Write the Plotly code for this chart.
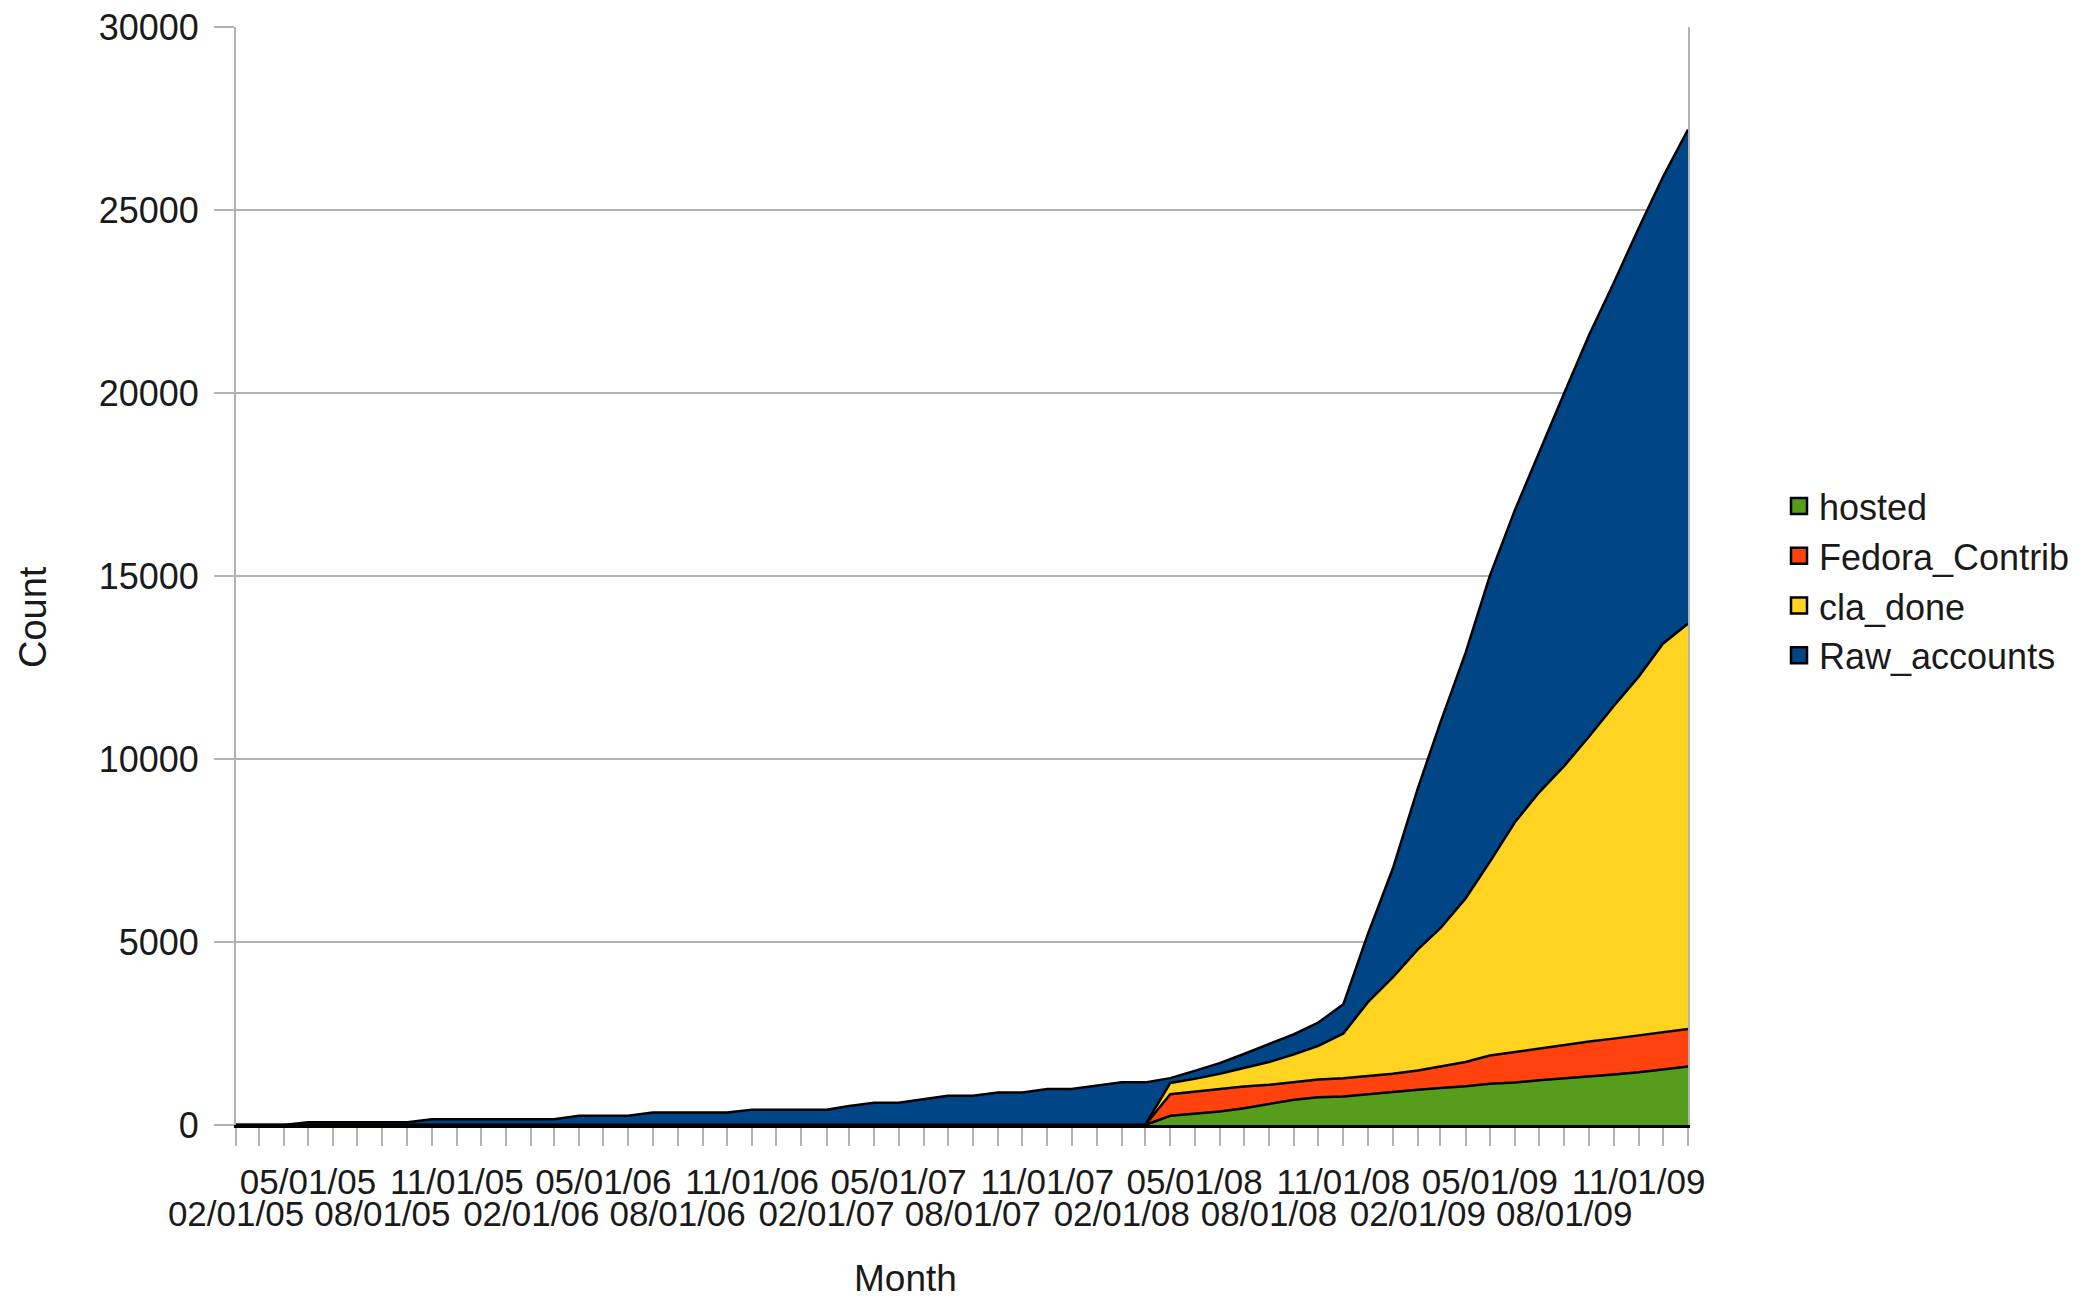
import plotly.graph_objects as go
import pandas as pd

# ---------------- data ----------------
months = [
    "02/01/05", "03/01/05", "04/01/05", "05/01/05", "06/01/05", "07/01/05",
    "08/01/05", "09/01/05", "10/01/05", "11/01/05", "12/01/05", "01/01/06",
    "02/01/06", "03/01/06", "04/01/06", "05/01/06", "06/01/06", "07/01/06",
    "08/01/06", "09/01/06", "10/01/06", "11/01/06", "12/01/06", "01/01/07",
    "02/01/07", "03/01/07", "04/01/07", "05/01/07", "06/01/07", "07/01/07",
    "08/01/07", "09/01/07", "10/01/07", "11/01/07", "12/01/07", "01/01/08",
    "02/01/08", "03/01/08", "04/01/08", "05/01/08", "06/01/08", "07/01/08",
    "08/01/08", "09/01/08", "10/01/08", "11/01/08", "12/01/08", "01/01/09",
    "02/01/09", "03/01/09", "04/01/09", "05/01/09", "06/01/09", "07/01/09",
    "08/01/09", "09/01/09", "10/01/09", "11/01/09", "12/01/09", "01/01/10",
]

raw_accounts = [
    0, 0, 0, 75, 75, 75, 75, 75, 160, 160, 160, 160,
    160, 160, 250, 250, 250, 340, 340, 340, 340, 420, 420, 420,
    420, 520, 610, 610, 710, 800, 800, 890, 890, 985, 985, 1075,
    1165, 1165, 1280, 1480, 1690, 1940, 2200, 2480, 2800, 3300, 5200, 7000,
    9200, 11000, 12900, 15000, 16800, 18400, 20000, 21600, 23000, 24500, 25900, 27200,
]
cla_done = [
    0, 0, 0, 0, 0, 0, 0, 0, 0, 0, 0, 0,
    0, 0, 0, 0, 0, 0, 0, 0, 0, 0, 0, 0,
    0, 0, 0, 0, 0, 0, 0, 0, 0, 0, 0, 0,
    0, 0, 1150, 1260, 1400, 1560, 1720, 1930, 2160, 2500, 3350, 4030,
    4800, 5380, 6190, 7190, 8270, 9090, 9810, 10620, 11440, 12250, 13150, 13700,
]
fedora_contrib = [
    0, 0, 0, 0, 0, 0, 0, 0, 0, 0, 0, 0,
    0, 0, 0, 0, 0, 0, 0, 0, 0, 0, 0, 0,
    0, 0, 0, 0, 0, 0, 0, 0, 0, 0, 0, 0,
    0, 0, 840, 910, 980, 1050, 1100, 1165, 1240, 1275, 1330, 1400,
    1490, 1600, 1720, 1900, 2000, 2100, 2200, 2280, 2360, 2450, 2540, 2620,
]
hosted = [
    0, 0, 0, 0, 0, 0, 0, 0, 0, 0, 0, 0,
    0, 0, 0, 0, 0, 0, 0, 0, 0, 0, 0, 0,
    0, 0, 0, 0, 0, 0, 0, 0, 0, 0, 0, 0,
    0, 0, 250, 300, 370, 460, 580, 690, 760, 780, 840, 910,
    960, 1010, 1060, 1130, 1160, 1220, 1270, 1330, 1380, 1440, 1520, 1600,
]

top_row_labels = ["05/01/05", "11/01/05", "05/01/06", "11/01/06", "05/01/07",
                  "11/01/07", "05/01/08", "11/01/08", "05/01/09", "11/01/09"]
bottom_row_labels = ["02/01/05", "08/01/05", "02/01/06", "08/01/06", "02/01/07",
                     "08/01/07", "02/01/08", "08/01/08", "02/01/09", "08/01/09"]
y_ticks = [0, 5000, 10000, 15000, 20000, 25000, 30000]

series_names = ["Raw_accounts", "cla_done", "Fedora_Contrib", "hosted"]
series_values = [raw_accounts, cla_done, fedora_contrib, hosted]
series_colors = ["#004586", "#ffd320", "#ff420e", "#579d1c"]

# ---------------- figure ----------------
dates = pd.to_datetime(months, format="%m/%d/%y")
date_str = [d.strftime("%Y-%m-%d") for d in dates]
bottom_dates = [pd.to_datetime(m, format="%m/%d/%y").strftime("%Y-%m-%d") for m in bottom_row_labels]

FONT = "Liberation Sans, Arial, sans-serif"
GRID = "#b3b3b3"
TXT = "#1a1a1a"

fig = go.Figure()

# area traces (drawn back to front)
for name, vals, col in zip(series_names, series_values, series_colors):
    fig.add_trace(go.Scatter(
        x=date_str, y=vals, name=name, mode="lines",
        line=dict(color="black", width=2.5),
        fill="tozeroy", fillcolor=col, showlegend=False,
        hoverinfo="x+y+name",
    ))

# legend entries (square swatches)
for name, col in zip(series_names[::-1], series_colors[::-1]):
    fig.add_trace(go.Scatter(
        x=[None], y=[None], name=name, mode="markers",
        marker=dict(symbol="square", size=16, color=col, line=dict(color="black", width=2.5)),
        showlegend=True,
    ))

# invisible trace for the second (lower) row of month labels
fig.add_trace(go.Scatter(x=[None], y=[None], xaxis="x2", yaxis="y",
                         showlegend=False, hoverinfo="skip"))

# page body has an 8px margin; place the plot area at page px 236..1688 x 27..1125
PAGE_OFF = 8
W, H = 2071, 1293
L = 236 - PAGE_OFF
T = 27 - PAGE_OFF
R = W - (1688 - PAGE_OFF)
B = H - (1125 - PAGE_OFF)
plot_w = W - L - R
plot_h = H - T - B

def px_x(px):
    return (px - 236) / plot_w

def px_y(py):
    return (1125 - py) / plot_h

fig.update_layout(
    width=W, height=H,
    margin=dict(l=L, r=R, t=T, b=B, pad=0, autoexpand=False),
    paper_bgcolor="white", plot_bgcolor="white",
    font=dict(family=FONT, size=35, color=TXT),
    xaxis=dict(
        type="date", range=[date_str[0], date_str[-1]],
        tickmode="array", tickvals=date_str,
        ticktext=[m if m in top_row_labels else "" for m in months],
        ticks="outside", ticklen=18, tickwidth=2, tickcolor=GRID,
        ticklabelstandoff=6, ticklabeloverflow="allow", automargin=False,
        showgrid=False, zeroline=False,
        showline=True, linecolor="black", linewidth=3,
        tickfont=dict(family=FONT, size=35, color=TXT),
    ),
    xaxis2=dict(
        type="date", range=[date_str[0], date_str[-1]],
        overlaying="x", anchor="y", side="bottom",
        tickmode="array", tickvals=bottom_dates, ticktext=bottom_row_labels,
        ticks="", ticklabelstandoff=65, ticklabeloverflow="allow", automargin=False,
        showgrid=False, zeroline=False, showline=False,
        tickfont=dict(family=FONT, size=35, color=TXT),
    ),
    yaxis=dict(
        range=[0, 30000], tickmode="array", tickvals=y_ticks, tickformat="d",
        ticks="outside", ticklen=20, tickwidth=2, tickcolor=GRID,
        ticklabelstandoff=8, ticklabeloverflow="allow", automargin=False,
        showgrid=True, gridcolor=GRID, gridwidth=2,
        zeroline=False, showline=True, linecolor=GRID, linewidth=2, mirror=True,
        tickfont=dict(family=FONT, size=36, color=TXT),
    ),
    legend=dict(
        x=px_x(1779), y=px_y(476),
        xanchor="left", yanchor="top",
        font=dict(family=FONT, size=36, color=TXT),
        bgcolor="rgba(0,0,0,0)", tracegroupgap=0,
    ),
    annotations=[
        dict(text="Count", xref="paper", yref="paper",
             x=px_x(33), y=px_y(617),
             textangle=-90, showarrow=False, xanchor="center", yanchor="middle",
             font=dict(family=FONT, size=38, color=TXT)),
        dict(text="Month", xref="paper", yref="paper",
             x=px_x(905), y=px_y(1278),
             showarrow=False, xanchor="center", yanchor="middle",
             font=dict(family=FONT, size=37, color=TXT)),
    ],
)

fig.write_html("out.html")
